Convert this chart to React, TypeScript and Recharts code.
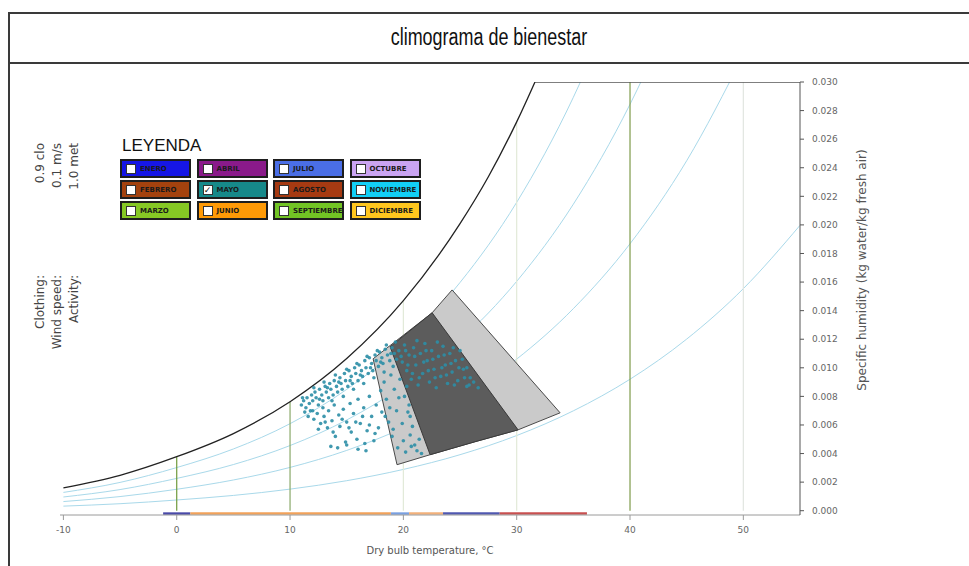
import React from "react"
import { ComposedChart, Line, Scatter, XAxis, YAxis } from "recharts"

// leyenda (meses, ordenados por columnas)
const months = [
  "ENERO", "FEBRERO", "MARZO",
  "ABRIL", "MAYO", "JUNIO",
  "JULIO", "AGOSTO", "SEPTIEMBRE",
  "OCTUBRE", "NOVIEMBRE", "DICIEMBRE",
]
const monthColors = [
  "#1616e6", "#a4420e", "#86c824",
  "#8a1a8a", "#16898a", "#ff9a06",
  "#4a6ee6", "#a63a12", "#72c424",
  "#caa4f2", "#12cff6", "#ffc61e",
]
const checkedMonth = "MAYO"

const xTicks = [-10, 0, 10, 20, 30, 40, 50]
const yTicks = [0, 0.002, 0.004, 0.006, 0.008, 0.01, 0.012, 0.014, 0.016, 0.018, 0.02, 0.022, 0.024, 0.026, 0.028, 0.03]

// curvas de humedad relativa (100, 80, 60, 40, 20 %)
const satTemps = [-10, -5, 0, 5, 10, 15, 20, 25, 27.5, 30, 32.5]
const satHum = [0.0016, 0.00248, 0.00378, 0.0054, 0.00763, 0.01065, 0.0147, 0.02009, 0.02337, 0.02721, 0.03159]
const rh80Temps = [-10, -5, 0, 5, 10, 15, 20, 25, 30, 35, 37.5]
const rh80Hum = [0.00128, 0.00198, 0.00302, 0.00432, 0.00609, 0.00849, 0.0117, 0.01597, 0.02158, 0.02893, 0.03339]
const rh60Temps = [-10, -5, 0, 5, 10, 15, 20, 25, 30, 35, 40, 42.5]
const rh60Hum = [0.00096, 0.00148, 0.00226, 0.00323, 0.00456, 0.00635, 0.00874, 0.0119, 0.01605, 0.02145, 0.02844, 0.03263]
const rh40Temps = [-10, -5, 0, 5, 10, 15, 20, 25, 30, 35, 40, 45, 50]
const rh40Hum = [0.00064, 0.00099, 0.0015, 0.00215, 0.00303, 0.00422, 0.0058, 0.00788, 0.01061, 0.01414, 0.01868, 0.02449, 0.03188]
const rh20Temps = [-10, -5, 0, 5, 10, 15, 20, 25, 30, 35, 40, 45, 50, 55]
const rh20Hum = [0.00032, 0.00049, 0.00075, 0.00107, 0.00151, 0.0021, 0.00289, 0.00392, 0.00526, 0.00699, 0.0092, 0.01201, 0.01554, 0.01997]

// lineas verticales de temperatura
const gridTemps = [0, 10, 20, 30, 40, 50]
const gridTops = [0.00378, 0.00763, 0.0147, 0.0272, 0.03, 0.03]
const gridColors = ["#6f9a3c", "#8aa86a", "#e2ead8", "#e2ead8", "#7e9a4a", "#e2e6e0"]

// barras de color sobre el eje x
const barStarts = [-1.2, 1.2, 18.9, 20.5, 23.5, 28.5]
const barEnds = [1.2, 18.9, 20.5, 23.5, 28.5, 36.2]
const barColors = ["#4a4aa8", "#f2a25a", "#7aa0e0", "#f2b07a", "#5058b0", "#c85050"]

// zonas de confort
const outerTemps = [17.33, 22.54, 24.3, 33.83, 30.12, 26.33, 22.36, 19.44]
const outerHum = [0.01063, 0.01385, 0.01545, 0.00685, 0.00566, 0.00483, 0.00392, 0.00322]
const innerTemps = [18.83, 22.54, 30.12, 26.33, 22.36]
const innerHum = [0.01147, 0.01385, 0.00566, 0.00483, 0.00392]

// datos horarios de mayo [temperatura, humedad especifica]
const mayReadings: [number, number][] = [
  [11.0, 0.0074], [11.2, 0.0077], [11.4, 0.0072], [11.5, 0.0079], [11.7, 0.0075], [11.9, 0.0081],
  [12.0, 0.0077], [12.2, 0.0083], [12.3, 0.0079], [12.5, 0.0074], [12.6, 0.0085], [12.8, 0.0081],
  [12.9, 0.0077], [13.1, 0.0087], [13.2, 0.0083], [13.4, 0.0079], [13.5, 0.0089], [13.6, 0.0085],
  [13.8, 0.0081], [13.9, 0.0091], [14.1, 0.0087], [14.2, 0.0083], [14.4, 0.0093], [14.5, 0.0089],
  [14.6, 0.0085], [14.8, 0.0096], [14.9, 0.0091], [15.1, 0.0087], [15.2, 0.0098], [15.4, 0.0094],
  [15.5, 0.0089], [15.7, 0.01], [15.8, 0.0096], [16.0, 0.0091], [16.1, 0.0102], [16.3, 0.0098],
  [16.4, 0.0094], [16.6, 0.0105], [16.7, 0.01], [16.9, 0.0096], [17.0, 0.0107], [17.2, 0.0103],
  [17.3, 0.0098], [17.5, 0.0109], [17.6, 0.0105], [17.8, 0.0101], [17.9, 0.0111], [18.1, 0.0107],
  [18.2, 0.0103], [18.4, 0.0113], [18.6, 0.0109], [18.8, 0.0105], [19.0, 0.0114], [19.2, 0.011],
  [19.4, 0.0106],
  [11.1, 0.0079], [11.8, 0.007], [12.1, 0.0086], [12.6, 0.0078], [13.0, 0.009], [13.3, 0.0086],
  [13.7, 0.0077], [14.0, 0.0095], [14.3, 0.009], [14.7, 0.008], [15.0, 0.0099], [15.3, 0.0091],
  [15.6, 0.0085], [15.9, 0.0103], [16.2, 0.0095], [16.5, 0.0089], [16.8, 0.0108], [17.1, 0.01],
  [17.4, 0.0093], [17.7, 0.0112], [18.0, 0.0104], [18.3, 0.0097], [18.5, 0.0116], [18.9, 0.011],
  [19.1, 0.0101], [19.3, 0.0118],
  [11.3, 0.0069], [11.6, 0.0066], [12.0, 0.007], [12.1, 0.0064], [12.4, 0.0068], [12.7, 0.0061],
  [12.9, 0.0072], [13.0, 0.0066], [13.3, 0.0058], [13.4, 0.007], [13.7, 0.0063], [13.9, 0.0074],
  [14.0, 0.0052], [14.3, 0.0067], [14.4, 0.0059], [14.7, 0.0071], [14.9, 0.0048], [15.0, 0.0062],
  [15.3, 0.0075], [15.4, 0.0055], [15.6, 0.0068], [15.9, 0.005], [16.0, 0.0078], [16.2, 0.0061],
  [16.5, 0.0072], [16.6, 0.0047], [16.8, 0.0056], [17.0, 0.008], [17.2, 0.0066], [17.4, 0.0049],
  [17.6, 0.0074], [17.8, 0.0058], [18.0, 0.0084], [18.1, 0.0069],
  [12.5, 0.0057], [13.1, 0.0062], [13.8, 0.0055], [14.6, 0.0064], [15.2, 0.0058], [15.8, 0.0062],
  [16.4, 0.0066], [17.0, 0.006], [17.5, 0.0054], [18.4, 0.0066], [18.8, 0.0072], [19.1, 0.0057],
  [13.6, 0.0045], [14.2, 0.0044], [15.0, 0.0046], [16.0, 0.0043], [16.7, 0.0042],
  [18.3, 0.009], [18.5, 0.0078], [18.7, 0.0062], [18.9, 0.0095], [19.0, 0.0052], [19.2, 0.0085],
  [19.4, 0.007], [19.5, 0.0044], [19.7, 0.0092], [19.9, 0.0061], [20.1, 0.008], [20.2, 0.0041],
  [20.4, 0.0069], [20.6, 0.0053], [20.3, 0.0087], [21.0, 0.0046], [20.5, 0.0074], [20.8, 0.0059],
  [21.6, 0.004], [20.6, 0.0066], [21.4, 0.005], [19.6, 0.0079], [20.0, 0.0049], [20.7, 0.0045],
  [21.2, 0.0042],
  [19.6, 0.0112], [19.9, 0.0104], [20.1, 0.0116], [20.3, 0.0098], [20.5, 0.0109], [20.7, 0.0092],
  [20.9, 0.0114], [21.1, 0.0102], [21.3, 0.0088], [21.5, 0.011], [21.7, 0.0096], [21.9, 0.0117],
  [22.1, 0.0105], [22.3, 0.009], [22.5, 0.0112], [22.7, 0.0099], [22.9, 0.0086], [23.1, 0.0108],
  [23.3, 0.0094], [23.5, 0.0115], [23.7, 0.0102], [23.9, 0.0089], [24.1, 0.011], [24.3, 0.0097],
  [24.6, 0.0105], [24.8, 0.0091], [25.0, 0.0112], [25.3, 0.0099], [25.6, 0.0087], [25.6, 0.01],
  [25.9, 0.0093], [26.2, 0.009],
  [19.8, 0.0108], [20.2, 0.0112], [20.4, 0.0102], [20.8, 0.0096], [21.0, 0.0108], [21.2, 0.0119],
  [21.4, 0.0093], [21.8, 0.0104], [22.0, 0.0112], [22.2, 0.0098], [22.6, 0.0106], [22.8, 0.0093],
  [23.0, 0.0118], [23.4, 0.01], [23.6, 0.0109], [23.8, 0.0095], [24.2, 0.0103], [24.4, 0.0114],
  [24.5, 0.0088], [24.9, 0.01], [25.2, 0.0106], [25.4, 0.0093], [25.8, 0.0088], [26.6, 0.0086],
]

const toPoints = (ts: number[], ws: number[]) => ts.map((t, i) => ({ t, w: ws[i] }))
const closed = (ts: number[], ws: number[]) => {
  const pts = toPoints(ts, ws)
  return [...pts, pts[0]]
}

const rhCurves = [
  toPoints(rh80Temps, rh80Hum),
  toPoints(rh60Temps, rh60Hum),
  toPoints(rh40Temps, rh40Hum),
  toPoints(rh20Temps, rh20Hum),
]
const mayData = mayReadings.map(([t, w]) => ({ t, w }))

const font = '"DejaVu Sans", Verdana, sans-serif'

function LegendBox() {
  return (
    <div style={{ position: "absolute", left: 0, top: 0 }}>
      <div style={{ position: "absolute", left: 122, top: 136, fontFamily: '"Liberation Sans", Arial, sans-serif', fontSize: 17, color: "#111", whiteSpace: "nowrap" }}>
        LEYENDA
      </div>
      {months.map((m, i) => {
        const col = Math.floor(i / 3)
        const row = i % 3
        return (
          <div
            key={m}
            style={{
              position: "absolute",
              left: 120 + col * 76.5,
              top: 159 + row * 21,
              width: 71,
              height: 19,
              boxSizing: "border-box",
              background: monthColors[i],
              border: "2px solid #1e1e1e",
              overflow: "hidden",
              display: "flex",
              alignItems: "center",
            }}
          >
            <div
              style={{
                width: 10,
                height: 10,
                marginLeft: 4,
                background: "#fff",
                border: "1px solid #333",
                boxSizing: "border-box",
                fontSize: 9,
                lineHeight: "8px",
                textAlign: "center",
                color: "#111",
                flex: "none",
              }}
            >
              {m === checkedMonth ? "✓" : ""}
            </div>
            <span style={{ marginLeft: 4, fontFamily: font, fontSize: 7, fontWeight: "bold", color: "#1a1a1a", whiteSpace: "nowrap" }}>{m}</span>
          </div>
        )
      })}
    </div>
  )
}

export default function App() {
  return (
    <div style={{ position: "absolute", left: 0, top: 0, width: 969, height: 566, overflow: "hidden", background: "#fff", fontFamily: font }}>
      <style>{"body{overflow:hidden}"}</style>
      <div style={{ position: "absolute", left: 8, top: 12, width: 990, height: 600, border: "2px solid #3a3a3a", boxSizing: "border-box" }} />
      <div style={{ position: "absolute", left: 8, top: 62, width: 990, height: 2, background: "#3a3a3a" }} />
      <div
        style={{
          position: "absolute",
          left: 8,
          top: 13,
          width: 961,
          height: 49,
          lineHeight: "49px",
          textAlign: "center",
          fontFamily: '"Liberation Sans", Arial, sans-serif',
          fontSize: 23,
          color: "#111",
        }}
      >
        <span style={{ display: "inline-block", transform: "scaleX(0.78)" }}>climograma de bienestar</span>
      </div>

      <div style={{ position: "absolute", left: 0, top: 0 }}>
        <ComposedChart width={969} height={566} margin={{ top: 82, right: 109, bottom: 6, left: 60 }}>
          <XAxis
            type="number"
            dataKey="t"
            domain={[-10.3, 55]}
            ticks={xTicks}
            allowDataOverflow
            height={45}
            tickSize={5}
            tickMargin={7}
            stroke="#9a9a9a"
            tick={{ fontSize: 9, fill: "#666", fontFamily: font }}
            label={{ value: "Dry bulb temperature, °C", position: "insideBottom", offset: 6, fontSize: 10, fill: "#555", fontFamily: font }}
          />
          <YAxis
            type="number"
            dataKey="w"
            orientation="right"
            domain={[-0.0003, 0.03]}
            ticks={yTicks}
            allowDataOverflow
            width={60}
            tickSize={4}
            tickMargin={8}
            stroke="#555"
            tick={{ fontSize: 9, fill: "#666", fontFamily: font }}
            tickFormatter={(v: number) => v.toFixed(3)}
          />

          {rhCurves.map((pts, i) => (
            <Line key={`rh-${i}`} data={pts} dataKey="w" type="monotone" stroke="#a9d9ea" strokeWidth={1} dot={false} isAnimationActive={false} />
          ))}

          {gridTemps.map((t, i) => (
            <Line
              key={`v-${t}`}
              data={[{ t, w: 0 }, { t, w: gridTops[i] }]}
              dataKey="w"
              type="linear"
              stroke={gridColors[i]}
              strokeWidth={1.2}
              dot={false}
              isAnimationActive={false}
            />
          ))}

          <Scatter
            data={closed(outerTemps, outerHum)}
            dataKey="w"
            line={{ fill: "#cacaca", stroke: "#4a4a4a", strokeWidth: 1 }}
            shape={() => <g />}
            isAnimationActive={false}
          />
          <Scatter
            data={closed(innerTemps, innerHum)}
            dataKey="w"
            line={{ fill: "#5c5c5c", stroke: "#3a3a3a", strokeWidth: 1 }}
            shape={() => <g />}
            isAnimationActive={false}
          />

          <Scatter
            data={mayData}
            dataKey="w"
            shape={(p: any) => <circle cx={p.cx} cy={p.cy} r={1.8} fill="#2c8ea6" fillOpacity={0.9} />}
            isAnimationActive={false}
          />

          <Line data={toPoints(satTemps, satHum)} dataKey="w" type="monotone" stroke="#222" strokeWidth={1.3} dot={false} isAnimationActive={false} />
          <Line data={[{ t: 31.6, w: 0.03 }, { t: 55, w: 0.03 }]} dataKey="w" type="linear" stroke="#555" strokeWidth={1.5} dot={false} isAnimationActive={false} />

          {barStarts.map((s, i) => (
            <Line
              key={`bar-${i}`}
              data={[{ t: s, w: -0.0002 }, { t: barEnds[i], w: -0.0002 }]}
              dataKey="w"
              type="linear"
              stroke={barColors[i]}
              strokeWidth={2.5}
              dot={false}
              isAnimationActive={false}
            />
          ))}
        </ComposedChart>
      </div>

      <LegendBox />

      <svg width={969} height={566} style={{ position: "absolute", left: 0, top: 0, pointerEvents: "none" }}>
        <g fontFamily={font} fontSize={12} fill="#444">
          <text transform="translate(44,143) rotate(-90)" textAnchor="end">0.9 clo</text>
          <text transform="translate(61,143) rotate(-90)" textAnchor="end">0.1 m/s</text>
          <text transform="translate(78,143) rotate(-90)" textAnchor="end">1.0 met</text>
          <text transform="translate(44,275) rotate(-90)" textAnchor="end">Clothing:</text>
          <text transform="translate(61,275) rotate(-90)" textAnchor="end">Wind speed:</text>
          <text transform="translate(78,275) rotate(-90)" textAnchor="end">Activity:</text>
        </g>
        <text transform="translate(866,270) rotate(-90)" textAnchor="middle" fontFamily={font} fontSize={12} fill="#555">
          Specific humidity (kg water/kg fresh air)
        </text>
      </svg>
    </div>
  )
}
